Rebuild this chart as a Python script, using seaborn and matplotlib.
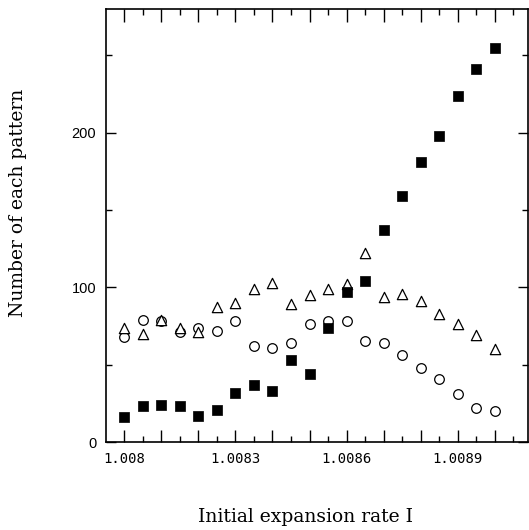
import numpy as np
import pandas as pd
import matplotlib
matplotlib.use("Agg")
import matplotlib.pyplot as plt
import seaborn as sns
from matplotlib.ticker import FixedLocator, MultipleLocator

# taux d'expansion initial (pas de 0.00005)
rate = [1.008 + 0.00005 * i for i in range(21)]

# nombre de chaque motif
n_square = [16, 23, 24, 23, 17, 21, 32, 37, 33, 53, 44, 74, 97, 104,
            137, 159, 181, 198, 224, 241, 255]
n_triangle = [74, 70, 79, 74, 71, 87, 90, 99, 103, 89, 95, 99, 102, 122,
              94, 96, 91, 83, 76, 69, 60]
n_circle = [68, 79, 78, 71, 74, 72, 78, 62, 61, 64, 76, 78, 78, 65,
            64, 56, 48, 41, 31, 22, 20]

x_major = [1.008 + 0.0001 * k for k in range(11)]
x_labels = ["1.008", "", "", "1.0083", "", "", "1.0086", "", "", "1.0089", ""]
y_major = [0, 100, 200]
y_labels = ["0", "100", "200"]

df = pd.DataFrame({"rate": rate, "square": n_square,
                   "triangle": n_triangle, "circle": n_circle})

sns.set_theme(style="ticks")
plt.rcParams["font.family"] = ["DejaVu Sans"]
plt.rcParams["text.color"] = "black"
plt.rcParams["xtick.labelcolor"] = "black"
plt.rcParams["ytick.labelcolor"] = "black"

fig = plt.figure(figsize=(5.29, 5.30), dpi=100)
ax = fig.add_axes([0.2004, 0.166, 0.798, 0.817])

sns.scatterplot(data=df, x="rate", y="circle", marker="o", s=48,
                facecolor="white", edgecolor="black", linewidth=0.9, ax=ax, zorder=3)
sns.scatterplot(data=df, x="rate", y="triangle", marker="^", s=55,
                facecolor="white", edgecolor="black", linewidth=0.9, ax=ax, zorder=3)
sns.scatterplot(data=df, x="rate", y="square", marker="s", s=52,
                color="black", edgecolor="black", linewidth=0.5, ax=ax, zorder=4)

ax.set_xlim(1.0079507, 1.00909)
ax.set_ylim(0, 280)

ax.xaxis.set_major_locator(FixedLocator(x_major))
ax.set_xticklabels(x_labels, family="DejaVu Sans Mono", fontsize=10, color="black")
ax.xaxis.set_minor_locator(MultipleLocator(0.0001 / 2))
ax.yaxis.set_major_locator(FixedLocator(y_major))
ax.set_yticklabels(y_labels, family="Liberation Sans", fontsize=10.5, color="black")
ax.yaxis.set_minor_locator(MultipleLocator(50))

ax.tick_params(which="major", direction="in", length=9, width=1,
               top=True, right=True, color="black", pad=7)
ax.tick_params(which="minor", direction="in", length=4, width=1,
               top=True, right=True, color="black")
ax.tick_params(axis="y", which="major", length=7)

for sp in ax.spines.values():
    sp.set_visible(True)
    sp.set_linewidth(1.2)
    sp.set_color("black")

ax.set_xlabel("")
ax.set_ylabel("")
fig.text(0.578, 0.024, "Initial expansion rate I", family="DejaVu Serif",
         fontsize=13.5, ha="center", va="center", color="black")
fig.text(0.034, 0.617, "Number of each pattern", family="DejaVu Serif",
         fontsize=13.5, ha="center", va="center", rotation=90, color="black")

fig.savefig("out.png", dpi=100)
